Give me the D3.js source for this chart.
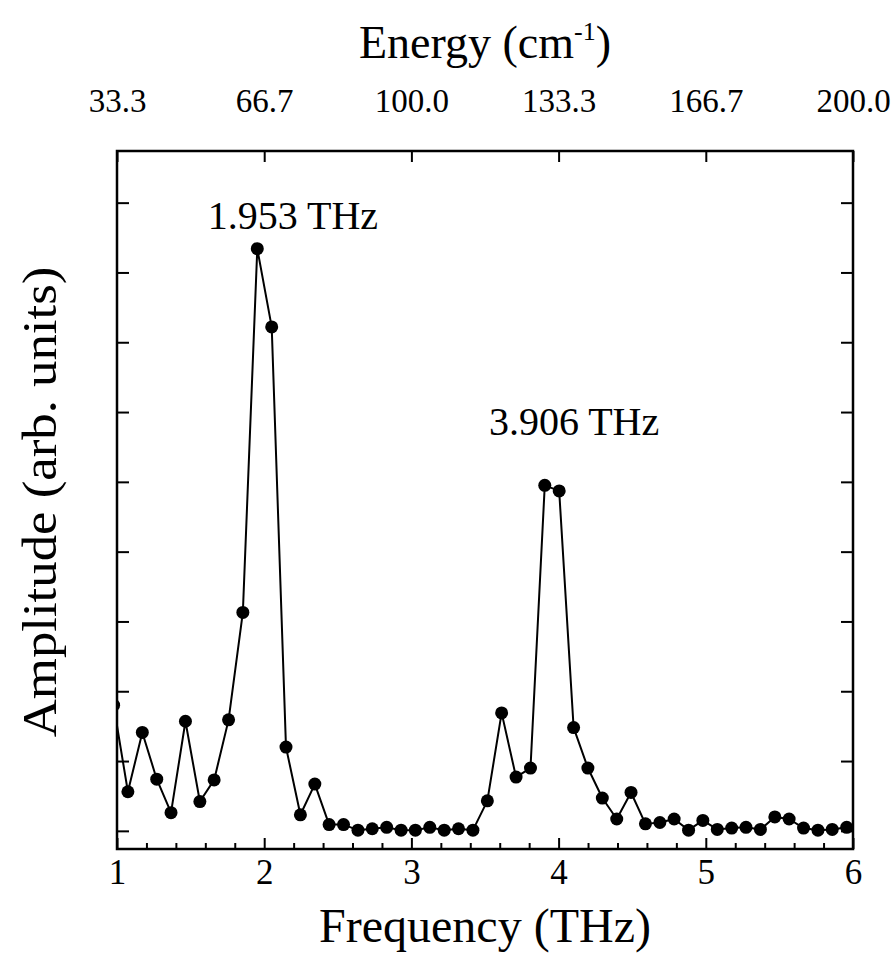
<!DOCTYPE html>
<html>
<head>
<meta charset="utf-8">
<script src="https://cdn.jsdelivr.net/npm/d3@7"></script>
<style>
  body { margin: 0; background: #fff; }
  svg text { font-family: "Liberation Serif", "DejaVu Serif", serif; fill: #000; }
</style>
</head>
<body>
<div id="chart"></div>
<script>
// frequencies of the FFT points (THz)
const freq = [0.977, 1.074, 1.172, 1.270, 1.367, 1.465, 1.563, 1.660, 1.758, 1.855,
  1.953, 2.051, 2.148, 2.246, 2.344, 2.441, 2.539, 2.637, 2.734, 2.832,
  2.930, 3.027, 3.125, 3.223, 3.320, 3.418, 3.516, 3.613, 3.711, 3.809,
  3.906, 4.004, 4.102, 4.199, 4.297, 4.395, 4.492, 4.590, 4.688, 4.785,
  4.883, 4.980, 5.078, 5.176, 5.273, 5.371, 5.469, 5.566, 5.664, 5.762,
  5.859, 5.957];

// amplitude (arb. units)
const amp = [1.80, 0.56, 1.41, 0.74, 0.26, 1.57, 0.42, 0.73, 1.59, 3.13,
  8.34, 7.22, 1.20, 0.23, 0.67, 0.09, 0.09, 0.01, 0.03, 0.05,
  0.01, 0.01, 0.05, 0.01, 0.03, 0.01, 0.43, 1.69, 0.77, 0.90,
  4.95, 4.87, 1.48, 0.90, 0.47, 0.17, 0.55, 0.10, 0.12, 0.17,
  0.01, 0.15, 0.02, 0.04, 0.05, 0.02, 0.20, 0.17, 0.04, 0.01,
  0.02, 0.05];

// axis ticks
const freqTicks = [1, 2, 3, 4, 5, 6];
const energyLabels = ["33.3", "66.7", "100.0", "133.3", "166.7", "200.0"];
const ampTicks = [0, 1, 2, 3, 4, 5, 6, 7, 8, 9];

// peak labels
const peakLabels = ["1.953 THz", "3.906 THz"];

const width = 895, height = 953;
const margin = { top: 151, right: 42, bottom: 104, left: 117 };

const svg = d3.select("#chart").append("svg")
  .attr("width", width)
  .attr("height", height);

const x = d3.scaleLinear().domain([1, 6]).range([margin.left, width - margin.right]);
const y = d3.scaleLinear().domain([-0.26, 9.74]).range([height - margin.bottom, margin.top]);

const x0 = x.range()[0], x1 = x.range()[1];
const y0 = y.range()[0], y1 = y.range()[1];

svg.append("clipPath").attr("id", "plot-clip")
  .append("rect")
  .attr("x", x0).attr("y", y1)
  .attr("width", x1 - x0).attr("height", y0 - y1);

const data = freq.map((f, i) => ({ f: f, a: amp[i] }));

const plot = svg.append("g").attr("clip-path", "url(#plot-clip)");

// line + dots
plot.append("path")
  .datum(data)
  .attr("fill", "none")
  .attr("stroke", "#000")
  .attr("stroke-width", 2)
  .attr("stroke-linejoin", "round")
  .attr("d", d3.line().x(d => x(d.f)).y(d => y(d.a)));

plot.selectAll(".dot")
  .data(data)
  .enter().append("circle")
  .attr("class", "dot")
  .attr("cx", d => x(d.f))
  .attr("cy", d => y(d.a))
  .attr("r", 6.5)
  .attr("fill", "#000");

// bottom axis: major + minor ticks pointing inward
const minorTicks = d3.range(1, 6.001, 0.2).filter(v => Math.abs(v - Math.round(v)) > 1e-6);

const bottomMinor = svg.append("g").attr("transform", `translate(0,${y0})`)
  .call(d3.axisBottom(x).tickValues(minorTicks).tickSize(-6).tickFormat(""));
bottomMinor.select(".domain").remove();
const bottomMajor = svg.append("g").attr("transform", `translate(0,${y0})`)
  .call(d3.axisBottom(x).tickValues(freqTicks).tickSize(-11).tickPadding(10).tickFormat(d3.format("d")));
bottomMajor.select(".domain").remove();
bottomMajor.selectAll("text").style("font-size", "35px");
svg.selectAll(".tick line").attr("stroke-width", 2);

// top axis: energy labels
const topAxis = svg.append("g").attr("transform", `translate(0,${y1})`)
  .call(d3.axisTop(x).tickValues(freqTicks).tickSize(-11).tickPadding(39)
    .tickFormat((d, i) => energyLabels[i]));
topAxis.select(".domain").remove();
topAxis.selectAll("text").style("font-size", "33px");
topAxis.selectAll("line").attr("stroke-width", 2);

// left / right axes, unlabeled
const leftAxis = svg.append("g").attr("transform", `translate(${x0},0)`)
  .call(d3.axisLeft(y).tickValues(ampTicks).tickSize(-12).tickFormat(""));
leftAxis.select(".domain").remove();
leftAxis.selectAll("line").attr("stroke-width", 2);

const rightAxis = svg.append("g").attr("transform", `translate(${x1},0)`)
  .call(d3.axisRight(y).tickValues(ampTicks).tickSize(-12).tickFormat(""));
rightAxis.select(".domain").remove();
rightAxis.selectAll("line").attr("stroke-width", 2);

// frame
svg.append("rect")
  .attr("x", x0).attr("y", y1)
  .attr("width", x1 - x0).attr("height", y0 - y1)
  .attr("fill", "none")
  .attr("stroke", "#000")
  .attr("stroke-width", 2.5);

// peak annotations, placed in data coordinates above each peak
const labelAt = [[2.195, 8.62], [4.105, 5.67]];
svg.selectAll(".peak-label")
  .data(peakLabels)
  .enter().append("text")
  .attr("class", "peak-label")
  .attr("x", (d, i) => x(labelAt[i][0]))
  .attr("y", (d, i) => y(labelAt[i][1]))
  .attr("text-anchor", "middle")
  .style("font-size", "40px")
  .text(d => d);

// axis titles
svg.append("text")
  .attr("x", (x0 + x1) / 2)
  .attr("y", 942)
  .attr("text-anchor", "middle")
  .style("font-size", "48px")
  .text("Frequency (THz)");

const eTitle = svg.append("text")
  .attr("x", (x0 + x1) / 2)
  .attr("y", 58)
  .attr("text-anchor", "middle")
  .style("font-size", "46px");
eTitle.append("tspan").text("Energy (cm");
eTitle.append("tspan").attr("dy", -18).style("font-size", "26px").text("-1");
eTitle.append("tspan").attr("dy", 18).text(")");

svg.append("text")
  .attr("transform", `translate(56,${(y0 + y1) / 2 + 2}) rotate(-90) scale(1.1,1)`)
  .attr("text-anchor", "middle")
  .style("font-size", "48px")
  .text("Amplitude (arb. units)");
</script>
</body>
</html>
